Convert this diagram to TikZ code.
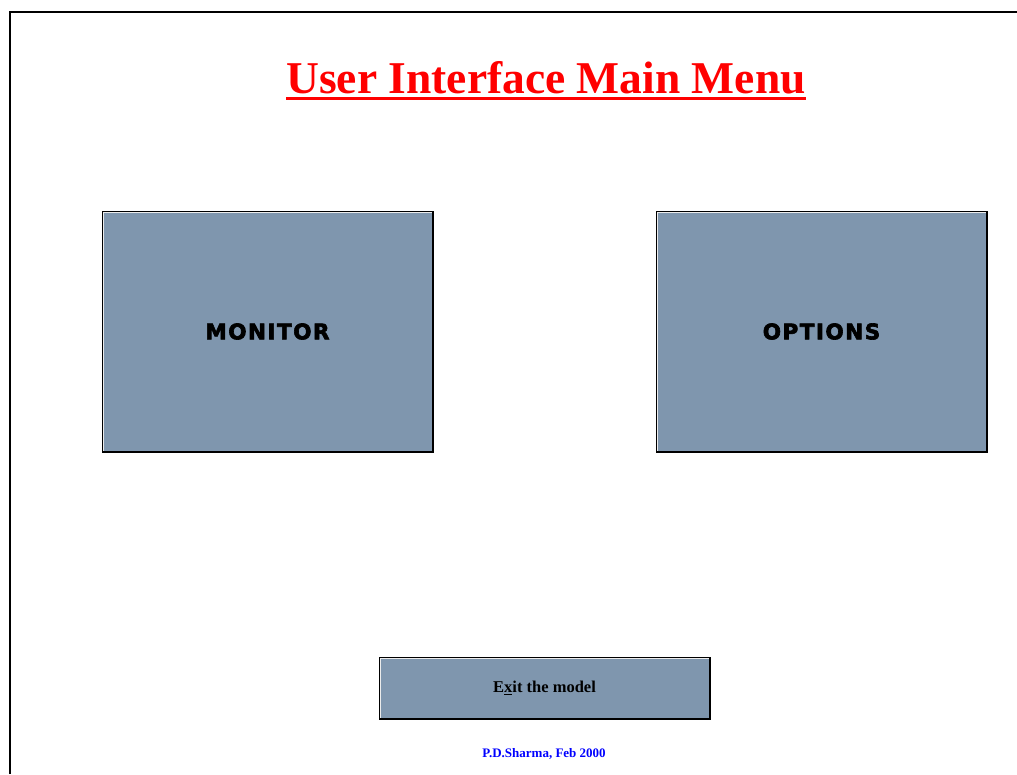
\documentclass[tikz,border=0pt]{standalone}
\usepackage{fontspec}
\setmainfont{Liberation Serif}
\newfontfamily\heavyfont[LetterSpace=7,FakeBold=3]{DejaVu Sans}
\usepackage{tikz}
\usetikzlibrary{positioning}
\definecolor{knopf}{RGB}{127,150,174}
\definecolor{titelrot}{RGB}{255,0,0}
\definecolor{fussblau}{RGB}{0,0,255}

\begin{document}
\begin{tikzpicture}[x=1pt, y=-1pt,
					knopf/.style={draw=black, fill=knopf, inner sep=0pt, minimum width=331pt, minimum height=241pt},
					grosstext/.style={font=\heavyfont\bfseries\fontsize{21.5}{24}\selectfont},
					kleintext/.style={font=\bfseries\fontsize{16.5}{20}\selectfont}]
					%Bildbereich
					\useasboundingbox[fill=white] (0,0) rectangle (1017,774);
					%Rahmen zeichnen
					\draw[line width=2.8pt] (10,774) -- (10,12) -- (1017,12);
					%Ueberschrift
					\node[inner sep=0pt, text=titelrot, font=\bfseries\fontsize{45.5}{50}\selectfont] (titel) at (546,78) {User Interface Main Menu};
					\draw[titelrot, line width=3pt] ([yshift=-5pt]titel.base west) -- ([yshift=-5pt]titel.base east);
					%Knoepfe
					\node[knopf, grosstext] (monitor) at (267.5,331.5) {MONITOR};
					\node[knopf, grosstext] (options) at (821.5,331.5) {OPTIONS};
					\node[knopf, kleintext, minimum height=62pt] (exit) at (544.5,688) {E\underline{x}it the model};
					%Schatten und Lichtkante
					\foreach \k in {monitor,options,exit} {
						\draw[white!85!gray, line width=1.2pt] ([shift={(1.5pt,1.5pt)}]\k.south west) -- ([shift={(1.5pt,-1.5pt)}]\k.north west) -- ([shift={(-1.5pt,-1.5pt)}]\k.north east);
						\draw[black, line width=2.2pt] ([yshift=-1pt]\k.north east) -- (\k.south east) -- (\k.south west);
					}
					%Beschriftung
					\node[text=fussblau, font=\bfseries\fontsize{13}{15}\selectfont] (autor) at (544,754) {P.D.Sharma, Feb 2000};
				\end{tikzpicture}
\end{document}
